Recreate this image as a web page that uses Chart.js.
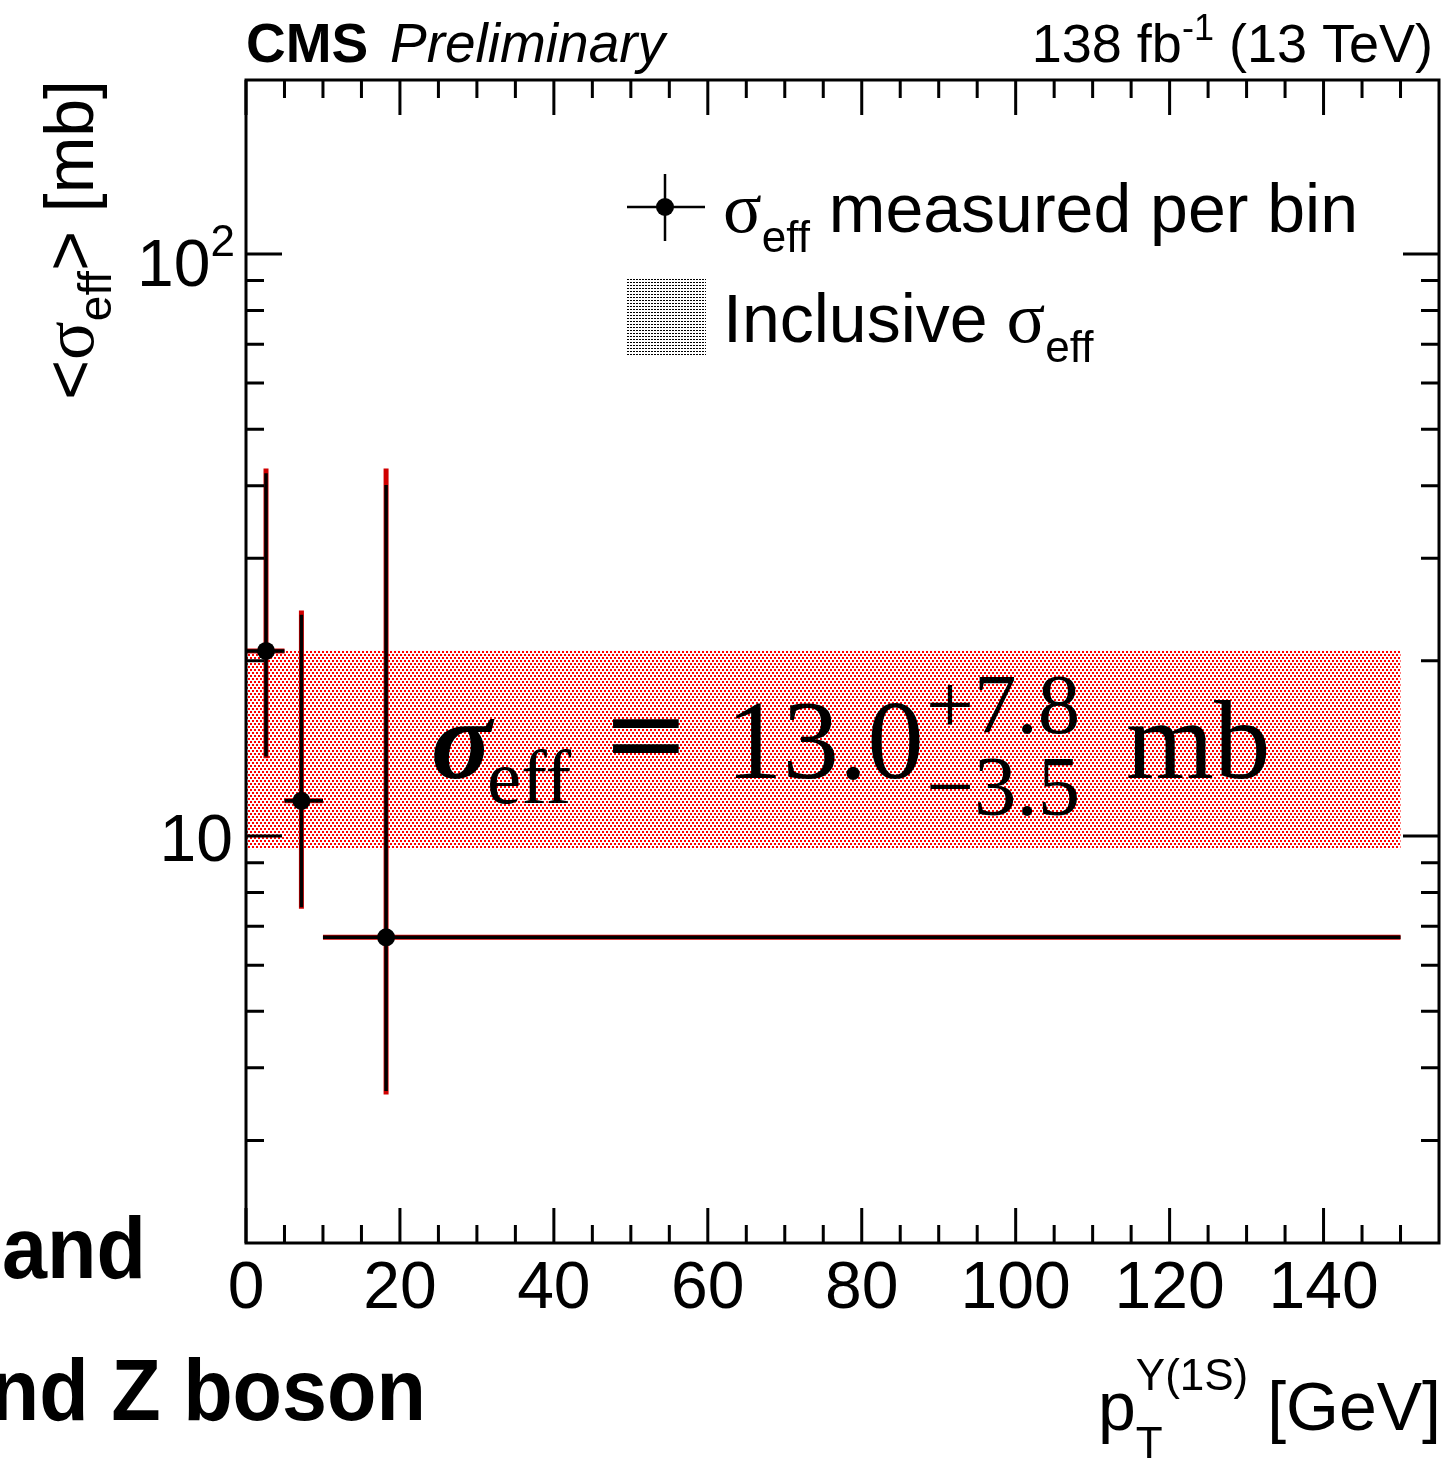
<!DOCTYPE html>
<html><head><meta charset="utf-8">
<script src="https://cdn.jsdelivr.net/npm/chart.js@4.4.0/dist/chart.umd.min.js"></script>
<style>html,body{margin:0;padding:0;background:#fff;}canvas{display:block;}</style>
</head><body>
<canvas id="c" width="1445" height="1461" style="width:1445px;height:1461px"></canvas>
<script>
// ---- data ----
const binCenters   = [2.6, 7.2, 18.2];
const binLow       = [0, 5, 10];
const binHigh      = [5, 10, 150];
const sigmaEff     = [20.8, 11.5, 6.7];
const errUpBlack   = [42.0, 24.0, 40.1];
const errDownBlack = [13.7, 7.55, 3.65];
const errUpRed     = [42.8, 24.4, 42.8];
const errDownRed   = [13.6, 7.5, 3.6];
const inclCentral  = 13.0;
const inclUp       = 7.8;
const inclDown     = 3.5;
const bandX        = [0, 150];
const xTicks       = [0, 20, 40, 60, 80, 100, 120, 140];
const xMinorTicks  = [5,10,15,25,30,35,45,50,55,65,70,75,85,90,95,105,110,115,125,130,135,145,150];
const yMajorTicks  = [10, 100];
const yMinorTicks  = [3,4,5,6,7,8,9,20,30,40,50,60,70,80,90];

const SANS = "'Liberation Sans', Arial, Helvetica, sans-serif";
const SERIF = "'Liberation Serif', 'Times New Roman', serif";

function makePattern(ctx, w, h, color, rects) {
  const c = document.createElement('canvas'); c.width = w; c.height = h;
  const g = c.getContext('2d'); g.fillStyle = color;
  rects.forEach(r => g.fillRect(r[0], r[1], r[2], r[3]));
  return ctx.createPattern(c, 'repeat');
}

function runsWidth(ctx, runs) {
  let w = 0;
  for (const r of runs) {
    ctx.font = r.f; let rw = ctx.measureText(r.t).width;
    if (r.pair) { ctx.font = r.pair.f; rw = Math.max(rw, ctx.measureText(r.pair.t).width); }
    w += rw;
  }
  return w;
}
function drawRuns(ctx, runs, x, y) {
  ctx.textAlign = 'left'; ctx.textBaseline = 'alphabetic';
  for (const r of runs) {
    ctx.font = r.f; let rw = ctx.measureText(r.t).width;
    ctx.fillText(r.t, x, y + (r.dy || 0));
    if (r.pair) { ctx.font = r.pair.f; rw = Math.max(rw, ctx.measureText(r.pair.t).width); ctx.fillText(r.pair.t, x, y + r.pair.dy); }
    x += rw;
  }
  return x;
}

const cmsPlugin = {
  id: 'cms',
  beforeDatasetsDraw(chart) {
    const ctx = chart.ctx, xs = chart.scales.x, ys = chart.scales.y, a = chart.chartArea;
    ctx.save();
    ctx.beginPath(); ctx.rect(a.left, a.top, a.right - a.left, a.bottom - a.top); ctx.clip();
    // inclusive band
    const pat = makePattern(ctx, 4, 6, '#ff0000', [[0,0,2,2],[2,3,2,2]]);
    const bx0 = xs.getPixelForValue(bandX[0]), bx1 = xs.getPixelForValue(bandX[1]);
    const by0 = ys.getPixelForValue(inclCentral + inclUp), by1 = ys.getPixelForValue(inclCentral - inclDown);
    ctx.fillStyle = pat; ctx.fillRect(bx0, by0, bx1 - bx0, by1 - by0);
    // formula
    ctx.fillStyle = '#000';
    ctx.textBaseline = 'alphabetic'; ctx.textAlign = 'left';
    ctx.font = "italic bold 113px " + SERIF; ctx.fillText('σ', 431, 778);
    ctx.font = "77px " + SERIF; ctx.fillText('eff', 487, 803);
    ctx.save(); ctx.translate(606, 778); ctx.scale(1.25, 1.1);
    ctx.font = "bold 113px " + SERIF; ctx.fillText('=', 0, 0); ctx.restore();
    ctx.font = "113px " + SERIF;
    ctx.fillText(inclCentral.toFixed(1), 726, 778);
    ctx.font = "85px " + SERIF; ctx.fillText('+' + inclUp.toFixed(1), 926, 733);
    ctx.fillText('\u2212' + inclDown.toFixed(1), 926, 815);
    ctx.font = "113px " + SERIF; ctx.fillText('mb', 1126, 778);
    // error bars: red layer then black layer
    const layers = [[errUpRed, errDownRed, '#d00000', 5], [errUpBlack, errDownBlack, '#000000', 3.5]];
    for (const [up, dn, col, lw] of layers) {
      ctx.strokeStyle = col; ctx.lineWidth = lw; ctx.lineCap = 'butt';
      for (let i = 0; i < binCenters.length; i++) {
        const px = xs.getPixelForValue(binCenters[i]);
        const py = ys.getPixelForValue(sigmaEff[i]);
        ctx.beginPath();
        ctx.moveTo(xs.getPixelForValue(binLow[i]), py); ctx.lineTo(xs.getPixelForValue(binHigh[i]), py);
        ctx.moveTo(px, ys.getPixelForValue(up[i])); ctx.lineTo(px, ys.getPixelForValue(dn[i]));
        ctx.stroke();
      }
    }
    ctx.restore();
  },
  afterDraw(chart) {
    const ctx = chart.ctx, xs = chart.scales.x, ys = chart.scales.y, a = chart.chartArea;
    ctx.save();
    ctx.strokeStyle = '#000'; ctx.fillStyle = '#000'; ctx.lineWidth = 3; ctx.lineCap = 'butt';
    // frame
    ctx.strokeRect(a.left, a.top, a.right - a.left, a.bottom - a.top);
    // ticks (inward on all four sides)
    ctx.beginPath();
    xTicks.forEach(v => { const p = xs.getPixelForValue(v);
      ctx.moveTo(p, a.bottom); ctx.lineTo(p, a.bottom - 35);
      ctx.moveTo(p, a.top); ctx.lineTo(p, a.top + 35); });
    xMinorTicks.forEach(v => { const p = xs.getPixelForValue(v);
      ctx.moveTo(p, a.bottom); ctx.lineTo(p, a.bottom - 18);
      ctx.moveTo(p, a.top); ctx.lineTo(p, a.top + 18); });
    yMajorTicks.forEach(v => { const p = ys.getPixelForValue(v);
      ctx.moveTo(a.left, p); ctx.lineTo(a.left + 36, p);
      ctx.moveTo(a.right, p); ctx.lineTo(a.right - 36, p); });
    yMinorTicks.forEach(v => { const p = ys.getPixelForValue(v);
      ctx.moveTo(a.left, p); ctx.lineTo(a.left + 18, p);
      ctx.moveTo(a.right, p); ctx.lineTo(a.right - 18, p); });
    ctx.stroke();
    // x tick labels
    ctx.font = "66px " + SANS; ctx.textAlign = 'center'; ctx.textBaseline = 'alphabetic';
    xTicks.forEach(v => ctx.fillText(String(v), xs.getPixelForValue(v), 1308));
    // y tick labels
    const p10 = ys.getPixelForValue(yMajorTicks[0]);
    ctx.textAlign = 'right'; ctx.font = "66px " + SANS;
    ctx.fillText('10', 233, p10 + 25);
    const p100 = ys.getPixelForValue(yMajorTicks[1]);
    const r100 = [{t: '10', f: "66px " + SANS, dy: 0}, {t: '2', f: "44px " + SANS, dy: -30}];
    drawRuns(ctx, r100, 235 - runsWidth(ctx, r100), p100 + 32);

    // top labels
    ctx.font = "bold 55px " + SANS; ctx.textAlign = 'left';
    ctx.fillText('CMS', 246, 62);
    ctx.font = "italic 55px " + SANS; ctx.fillText('Preliminary', 390, 62);
    const lumi = [{t: '138 fb', f: "54px " + SANS}, {t: '-1', f: "36px " + SANS, dy: -22}, {t: ' (13 TeV)', f: "54px " + SANS}];
    drawRuns(ctx, lumi, 1433 - runsWidth(ctx, lumi), 62);

    // y axis title (rotated)
    const yt = [{t: '<', f: "68px " + SANS}, {t: 'σ', f: "72px " + SERIF}, {t: 'eff', f: "46px " + SANS, dy: 18}, {t: '>', f: "68px " + SANS}, {t: ' [mb]', f: "68px " + SANS}];
    ctx.save(); ctx.translate(93, a.top); ctx.rotate(-Math.PI / 2);
    drawRuns(ctx, yt, -runsWidth(ctx, yt), 0);
    ctx.restore();

    // x axis title
    const xt = [{t: 'p', f: "68px " + SANS}, {t: 'Υ(1S)', f: "44px " + SANS, dy: -40, pair: {t: 'T', f: "44px " + SANS, dy: 28}}, {t: ' [GeV]', f: "68px " + SANS}];
    drawRuns(ctx, xt, 1441 - runsWidth(ctx, xt), 1430);

    // legend
    ctx.lineWidth = 2.5; ctx.beginPath();
    ctx.moveTo(627, 207); ctx.lineTo(705, 207); ctx.moveTo(665, 174); ctx.lineTo(665, 241); ctx.stroke();
    ctx.beginPath(); ctx.arc(665, 207, 9, 0, 2 * Math.PI); ctx.fill();
    const gpat = makePattern(ctx, 3, 3, '#000', [[0,0,2,1]]);
    ctx.fillStyle = gpat; ctx.fillRect(627, 279, 79, 76);
    ctx.fillStyle = '#000';
    drawRuns(ctx, [{t: 'σ', f: "72px " + SERIF}, {t: 'eff', f: "44px " + SANS, dy: 20}, {t: ' measured per bin', f: "68px " + SANS}], 723, 232);
    drawRuns(ctx, [{t: 'Inclusive ', f: "68px " + SANS}, {t: 'σ', f: "72px " + SERIF}, {t: 'eff', f: "44px " + SANS, dy: 20}], 723, 342);

    // cut-off caption text on the left
    ctx.save(); ctx.scale(0.92, 1);
    ctx.font = "bold 88px " + SANS; ctx.textAlign = 'right';
    ctx.fillText('and', 146 / 0.92, 1278);
    ctx.fillText('and Z boson', 426 / 0.92, 1420);
    ctx.restore();
    ctx.restore();
  }
};

const points = binCenters.map((x, i) => ({x: x, y: sigmaEff[i]}));
new Chart(document.getElementById('c'), {
  type: 'scatter',
  data: { datasets: [{ data: points, pointRadius: 9, pointHoverRadius: 9, backgroundColor: '#000', borderWidth: 0, clip: false }] },
  options: {
    responsive: false, animation: false, devicePixelRatio: 1,
    layout: { autoPadding: false, padding: { left: 246, right: 6, top: 80, bottom: 218 } },
    plugins: { legend: { display: false }, tooltip: { enabled: false } },
    scales: {
      x: { type: 'linear', min: 0, max: 155, display: false },
      y: { type: 'logarithmic', min: 2, max: 199, display: false }
    }
  },
  plugins: [cmsPlugin]
});
</script>
</body></html>
